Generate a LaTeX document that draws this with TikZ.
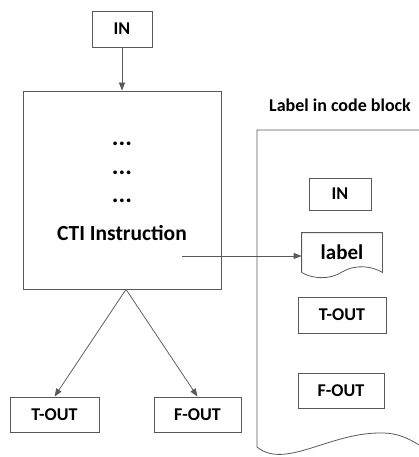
\documentclass[tikz,border=0pt]{standalone}
\usepackage{fontspec}
\setmainfont{Carlito}
\usetikzlibrary{arrows.meta}
\tikzset{>={Triangle[length=8pt,width=6pt]}}
\tikzset{box/.style={draw=linegray,line width=0.8pt,inner sep=0pt,font=\bfseries\fontsize{18}{21}\selectfont}}
\tikzset{big/.style={font=\bfseries\fontsize{21.5}{25}\selectfont}}
\definecolor{linegray}{gray}{0.35}

\begin{document}
\begin{tikzpicture}[x=1pt,y=-1pt,line width=0.8pt,draw=linegray]
  \clip (0,0) rectangle (419,457);
  \useasboundingbox (0,0) rectangle (419,457);
  % left side
  \node[box,minimum width=60pt,minimum height=36pt] (in) at (122,29) {IN};
  \node[box,minimum width=198pt,minimum height=198pt] (main) at (122,190) {};
  \node[font=\bfseries\fontsize{25}{28}\selectfont] (d1) at (122,144) {...};
  \node[font=\bfseries\fontsize{25}{28}\selectfont] (d2) at (122,173) {...};
  \node[font=\bfseries\fontsize{25}{28}\selectfont] (d3) at (122,201) {...};
  \node[big] (cti) at (122,233) {CTI Instruction};
  \node[box,minimum width=89pt,minimum height=35pt] (tout) at (54.5,414.5) {T-OUT};
  \node[box,minimum width=87pt,minimum height=35pt] (fout) at (197.5,414.5) {F-OUT};
  \draw[->,linegray] (in) -- (main);
  \draw[->,linegray] ([xshift=4pt]main.south) -- (tout.north);
  \draw[->,linegray] ([xshift=4pt]main.south) -- (fout.north);
  % code block
  \node[font=\bfseries\fontsize{18}{21}\selectfont] (title) at (340,105) {Label in code block};
  \draw[linegray] (430,130) -- (257,130) -- (257,447)
    .. controls (285,470) and (330,432) .. (382,433)
    .. controls (400,433) and (412,440) .. (430,452);
  \node[box,minimum width=62pt,minimum height=32pt] (bin) at (340,194) {IN};
  \node[inner sep=0pt,minimum width=80pt,minimum height=39pt,font=\bfseries\fontsize{21}{25}\selectfont] (lab) at (342,252.5) {label};
  \draw[linegray] (lab.south west) -- (lab.north west) -- (lab.north east) -- (lab.south east)
    .. controls (372,266) and (355,264) .. (342,272)
    .. controls (330,280) and (312,279) .. (lab.south west);
  \node[box,minimum width=88pt,minimum height=36pt] (btout) at (342,315) {T-OUT};
  \node[box,minimum width=86pt,minimum height=35pt] (bfout) at (341,390.5) {F-OUT};
  \coordinate (src) at (182,256);
  \draw[->,linegray] (src) -- (src -| lab.west);
\end{tikzpicture}
\end{document}
